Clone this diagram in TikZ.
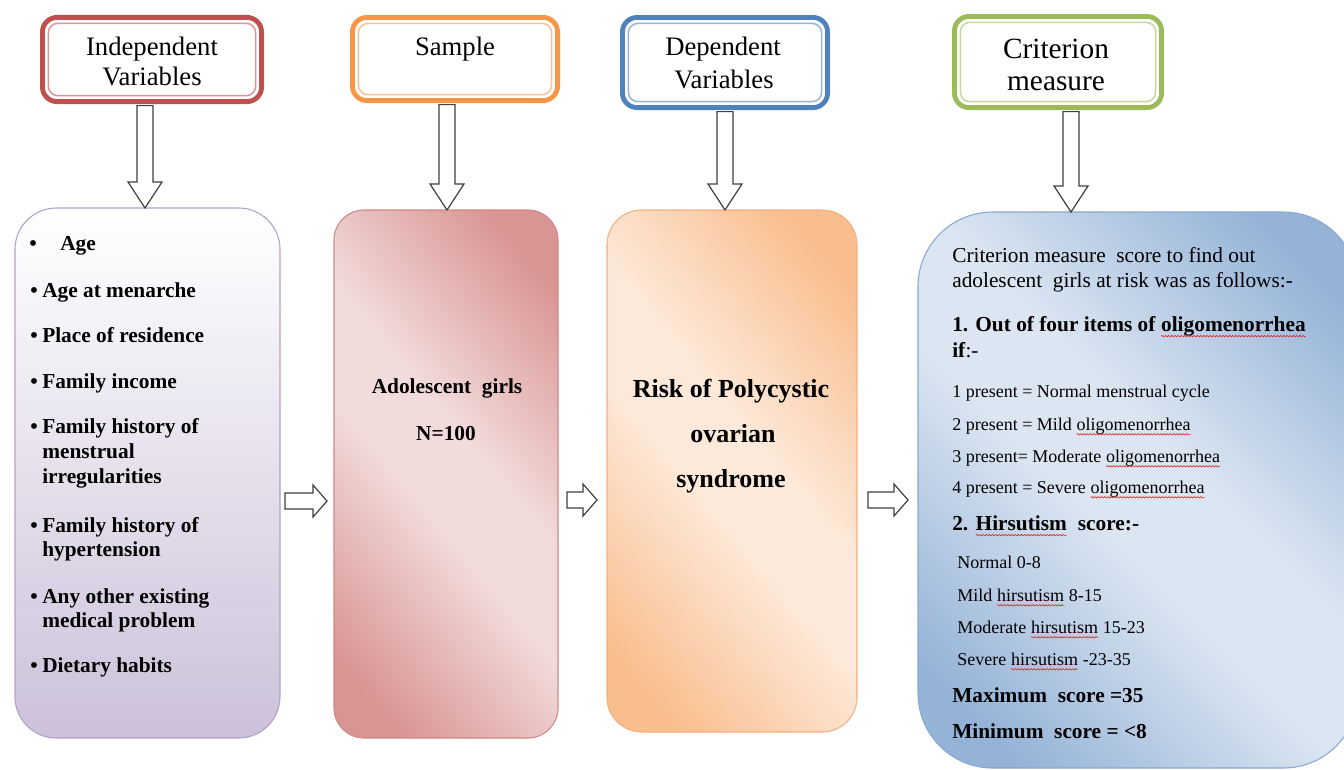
\documentclass[tikz,border=0pt]{standalone}
\usepackage{fontspec}
\setmainfont{Liberation Serif}
\usetikzlibrary{calc,decorations.pathmorphing}
\definecolor{hred}{HTML}{C0504D}
\definecolor{hredl}{HTML}{D99694}
\definecolor{horange}{HTML}{F79646}
\definecolor{horangel}{HTML}{FAC090}
\definecolor{hblue}{HTML}{4F81BD}
\definecolor{hbluel}{HTML}{95B3D7}
\definecolor{hgreen}{HTML}{9BBB59}
\definecolor{hgreenl}{HTML}{C3D69B}
\definecolor{lav}{HTML}{CCC1DA}
\definecolor{lavb}{HTML}{B3A2C7}
\definecolor{pinkd}{HTML}{D99594}
\definecolor{pinkl}{HTML}{F2DCDB}
\definecolor{pinkb}{HTML}{D08886}
\definecolor{orad}{HTML}{F9BE8E}
\definecolor{oral}{HTML}{FDE9D9}
\definecolor{orab}{HTML}{F2B083}
\definecolor{blued}{HTML}{95B3D7}
\definecolor{bluel}{HTML}{DCE6F2}
\definecolor{blueb}{HTML}{8AA8D0}
\definecolor{arrowc}{HTML}{404040}
\definecolor{spell}{HTML}{E02020}
\pgfdeclarehorizontalshading{pinkdiag}{100bp}{color(0bp)=(pinkd); color(22bp)=(pinkd); color(45bp)=(pinkl); color(55bp)=(pinkl); color(78bp)=(pinkd); color(100bp)=(pinkd)}
\pgfdeclarehorizontalshading{oradiag}{100bp}{color(0bp)=(orad); color(22bp)=(orad); color(45bp)=(oral); color(55bp)=(oral); color(78bp)=(orad); color(100bp)=(orad)}
\pgfdeclarehorizontalshading{bluediag}{100bp}{color(0bp)=(blued); color(22bp)=(blued); color(45bp)=(bluel); color(55bp)=(bluel); color(78bp)=(blued); color(100bp)=(blued)}
\newcommand\sqw[1]{\tikz[baseline=(w.base)]{\node[inner sep=0pt,outer sep=0pt,anchor=base](w){#1};\draw[spell,line width=0.45pt,decorate,decoration={snake,amplitude=0.55pt,segment length=2.4pt}]([yshift=-0.24em]w.base west)--([yshift=-0.24em]w.base east);}}
\newcommand\vblock[2]{\draw[blk] let \p1=#1, \p2=#2 in (\x2-6pt,\y1) -- (\x2+6pt,\y1) -- (\x2+6pt,\y2+19.5pt) -- (\x2+12.75pt,\y2+19.5pt) -- (\x2,\y2) -- (\x2-12.75pt,\y2+19.5pt) -- (\x2-6pt,\y2+19.5pt) -- cycle;}
\newcommand\hblock[2]{\draw[blk] let \p1=#1, \p2=#2 in (\x1,\y2+6pt) -- (\x2-10.5pt,\y2+6pt) -- (\x2-10.5pt,\y2+12pt) -- (\x2,\y2) -- (\x2-10.5pt,\y2-12pt) -- (\x2-10.5pt,\y2-6pt) -- (\x1,\y2-6pt) -- cycle;}
\begin{document}
\begin{tikzpicture}[x=0.75pt,y=-0.75pt,
  hdr/.style={draw=#1, line width=3.6pt, rounded corners=11pt, rectangle, outer sep=0pt, inner sep=0pt, fill=white},
  hdrin/.style={draw=#1, line width=1.1pt, rounded corners=7pt},
  htext/.style={font=\fontsize{20}{24}\selectfont, anchor=base, inner sep=0pt},
  htextb/.style={font=\fontsize{22}{26}\selectfont, anchor=base, inner sep=0pt},
  mbox/.style={rectangle, outer sep=0pt, inner sep=0pt, line width=0.8pt},
  blk/.style={draw=arrowc, fill=white, line width=0.9pt, line join=miter},
  itm/.style={font=\fontsize{16}{19}\selectfont\bfseries, anchor=base west, inner sep=0pt},
  ctr/.style={font=\fontsize{16}{19}\selectfont\bfseries, anchor=base, inner sep=0pt},
  dep/.style={font=\fontsize{19.5}{23}\selectfont\bfseries, anchor=base, inner sep=0pt},
  crit/.style={font=\fontsize{16}{19}\selectfont, anchor=base west, inner sep=0pt},
  critb/.style={font=\fontsize{16}{19}\selectfont\bfseries, anchor=base west, inner sep=0pt},
  crits/.style={font=\fontsize{13.5}{16}\selectfont, anchor=base west, inner sep=0pt}
]
\useasboundingbox (0,0) rectangle (1344,769);
\clip (0,0) rectangle (1344,769);
\fill[white] (0,0) rectangle (1344,769);

% main boxes
\node[mbox, draw=lavb, top color=white, bottom color=lav, rounded corners=31pt,
      minimum width=198.75pt, minimum height=397.5pt] (b1) at (147.5,473) {};
\node[mbox, draw=pinkb, shade, shading=pinkdiag, shading angle=40, rounded corners=22.5pt,
      minimum width=168pt, minimum height=396pt] (b2) at (446,474) {};
\node[mbox, draw=orab, shade, shading=oradiag, shading angle=40, rounded corners=26pt,
      minimum width=187.5pt, minimum height=391.5pt] (b3) at (732,471) {};
\node[mbox, draw=blueb, shade, shading=bluediag, shading angle=45, rounded corners=56pt,
      minimum width=330pt, minimum height=417pt] (b4) at (1138,490) {};

% header frames
\node[hdr=hred, minimum width=164.4pt, minimum height=63.2pt] (h1) at (152,59.5) {};
\node[hdr=horange, minimum width=153.9pt, minimum height=62.4pt] (h2) at (455,59) {};
\node[hdr=hblue, minimum width=153.9pt, minimum height=67.65pt] (h3) at (725,62.5) {};
\node[hdr=hgreen, minimum width=155.4pt, minimum height=68.4pt] (h4) at (1058,62) {};
\draw[hdrin=hredl] ($(h1.south west)+(6,-6)$) rectangle ($(h1.north east)+(-6,6)$);
\draw[hdrin=horangel] ($(h2.south west)+(6,-6)$) rectangle ($(h2.north east)+(-6,6)$);
\draw[hdrin=hbluel] ($(h3.south west)+(6,-6)$) rectangle ($(h3.north east)+(-6,6)$);
\draw[hdrin=hgreenl] ($(h4.south west)+(6,-6)$) rectangle ($(h4.north east)+(-6,6)$);

% down block arrows
\vblock{($(h1.south)+(0,4)$)}{(145,0 |- b1.north)}
\vblock{($(h2.south)+(0,4)$)}{(447,0 |- b2.north)}
\vblock{($(h3.south)+(0,4)$)}{(725,0 |- b3.north)}
\vblock{($(h4.south)+(0,4)$)}{(1071,0 |- b4.north)}

% horizontal block arrows
\hblock{($(b1.east)+(5,0)$)}{($(b2.west |- 0,501)+(-7,0)$)}
\hblock{($(b2.east)+(9,0)$)}{($(b3.west |- 0,500)+(-10,0)$)}
\hblock{($(b3.east)+(11,0)$)}{($(b4.west |- 0,500)+(-10,0)$)}

% header texts
\node[htext] (t1a) at (152,55) {Independent};
\node[htext] (t1b) at (152,85) {Variables};
\node[htext] (t2a) at (455,55) {Sample};
\node[htext] (t3a) at (723,55) {Dependent};
\node[htext] (t3b) at (724,88) {Variables};
\node[htextb] (t4a) at (1056,58) {Criterion};
\node[htextb] (t4b) at (1056,90) {measure};

% box 1 items
\node[itm] (u1) at (29,250) {\textbullet};
\node[itm] (i1) at (60,250) {Age};
\node[itm] (u2) at (30,297) {\textbullet};
\node[itm] (i2) at (42,297) {Age at menarche};
\node[itm] (u3) at (30,342) {\textbullet};
\node[itm] (i3) at (42,342) {Place of residence};
\node[itm] (u4) at (30,388) {\textbullet};
\node[itm] (i4) at (42,388) {Family income};
\node[itm] (u5) at (30,433) {\textbullet};
\node[itm] (i5a) at (42,433) {Family history of};
\node[itm] (i5b) at (42,458) {menstrual};
\node[itm] (i5c) at (42,483) {irregularities};
\node[itm] (u6) at (30,532) {\textbullet};
\node[itm] (i6a) at (42,532) {Family history of};
\node[itm] (i6b) at (42,556) {hypertension};
\node[itm] (u7) at (30,603) {\textbullet};
\node[itm] (i7a) at (42,603) {Any other existing};
\node[itm] (i7b) at (42,627) {medical problem};
\node[itm] (u8) at (30,672) {\textbullet};
\node[itm] (i8) at (42,672) {Dietary habits};

% box 2
\node[ctr] (s1) at (447,393) {Adolescent\ \ girls};
\node[ctr] (s2) at (446,440) {N=100};

% box 3
\node[dep] (d1) at (731,397) {Risk of Polycystic};
\node[dep] (d2) at (733,442) {ovarian};
\node[dep] (d3) at (731,487) {syndrome};

% box 4
\node[crit] (c1) at (952,262) {Criterion measure\ \ score to find out};
\node[crit] (c2) at (952,287) {adolescent\ \ girls at risk was as follows:-};
\node[critb] (c3) at (952,331) {1. Out of four items of \sqw{oligomenorrhea}};
\node[crit] (c4) at (952,357) {\textbf{if}:-};
\node[crits] (c5) at (952,397) {1 present = Normal menstrual cycle};
\node[crits] (c6) at (952,430) {2 present = Mild \sqw{oligomenorrhea}};
\node[crits] (c7) at (952,462) {3 present= Moderate \sqw{oligomenorrhea}};
\node[crits] (c8) at (952,493) {4 present = Severe \sqw{oligomenorrhea}};
\node[critb] (c9) at (952,530) {2. \sqw{Hirsutism}\ \ score:-};
\node[crits] (c10) at (957,568) {Normal 0-8};
\node[crits] (c11) at (957,601) {Mild \sqw{hirsutism} 8-15};
\node[crits] (c12) at (957,633) {Moderate \sqw{hirsutism} 15-23};
\node[crits] (c13) at (957,665) {Severe \sqw{hirsutism} -23-35};
\node[critb] (c14) at (952,702) {Maximum\ \ score =35};
\node[critb] (c15) at (952,738) {Minimum\ \ score = <8};
\end{tikzpicture}
\end{document}
